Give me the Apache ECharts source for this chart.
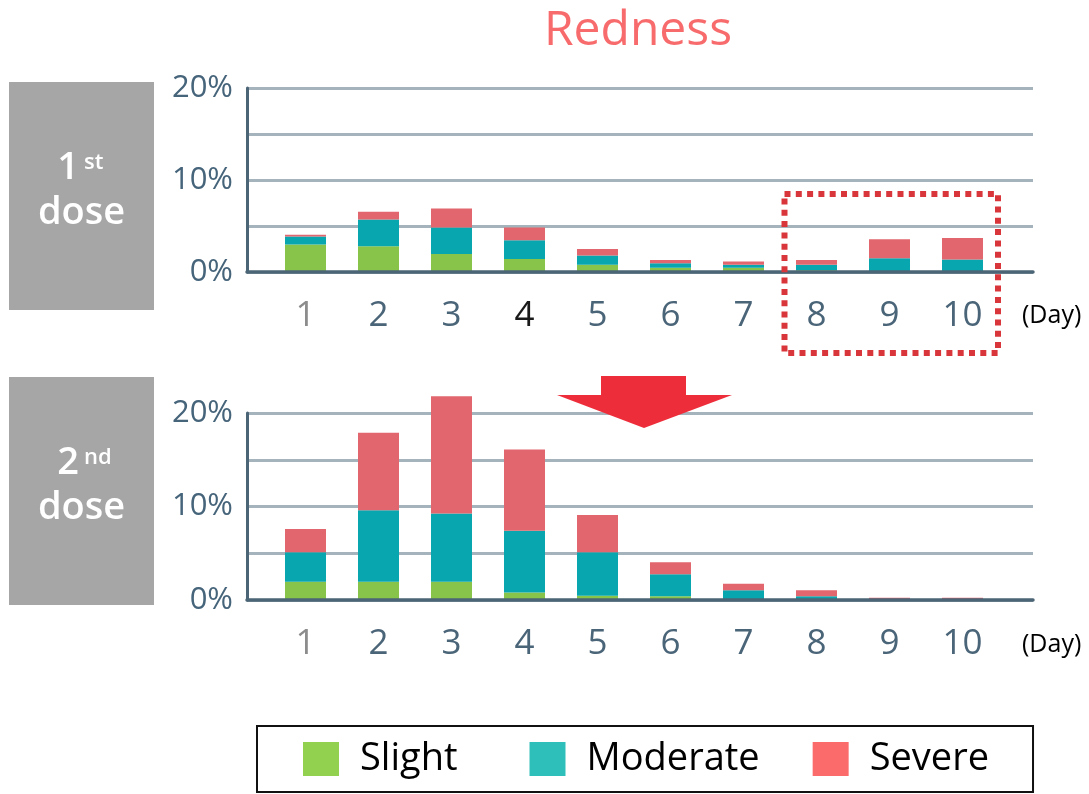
<!DOCTYPE html>
<html>
<head>
<meta charset="utf-8">
<script src="https://cdn.jsdelivr.net/npm/echarts@6.0.0/dist/echarts.min.js"></script>
<style>
  html, body { margin: 0; padding: 0; background: #fff; }
  #chart { width: 1089px; height: 794px; }
</style>
</head>
<body>
<div id="chart"></div>
<script>
// days after vaccination
const days = ['1', '2', '3', '4', '5', '6', '7', '8', '9', '10'];
const severityNames = ['Slight', 'Moderate', 'Severe'];

// % of people with redness, 1st dose
const dose1Slight   = [3.0, 2.8, 1.95, 1.4, 0.8, 0.45, 0.45, 0.2, 0, 0];
const dose1Moderate = [0.85, 2.9, 2.9, 2.05, 1.0, 0.5, 0.35, 0.6, 1.5, 1.35];
const dose1Severe   = [0.2, 0.85, 2.05, 1.4, 0.7, 0.35, 0.35, 0.5, 2.05, 2.35];

// % of people with redness, 2nd dose
const dose2Slight   = [1.95, 1.95, 1.95, 0.8, 0.45, 0.4, 0, 0, 0, 0];
const dose2Moderate = [3.15, 7.65, 7.3, 6.6, 4.65, 2.35, 1.05, 0.4, 0, 0];
const dose2Severe   = [2.5, 8.3, 12.55, 8.7, 4.0, 1.3, 0.7, 0.65, 0.25, 0.25];

const barColors = ['#88c44a', '#08a6ae', '#e2666d'];
const legendColors = ['#92d050', '#2ebfbb', '#fb6b6b'];

const axisDark = '#4b6576';
const gridGray = '#a5b4bc';
const labelSlate = '#4a6478';

let chart = echarts.init(document.getElementById('chart'));

// two panels, each = a frame grid (y axis 0-20% + gridlines) and a bar grid (days, a bit taller so bars can pass 20%)
const panels = [
  { base: 272, pxPerPct: 9.2, data: [dose1Slight, dose1Moderate, dose1Severe], dark4: true },
  { base: 600, pxPerPct: 9.35, data: [dose2Slight, dose2Moderate, dose2Severe], dark4: false }
];
const barMax = 24;

let grids = [], xAxes = [], yAxes = [], series = [];

panels.forEach((p, i) => {
  let frame = i * 2, bars = i * 2 + 1;
  let h20 = 20 * p.pxPerPct, hMax = barMax * p.pxPerPct;
  grids.push({ left: 247, width: 786, top: p.base - h20, height: h20 });
  grids.push({ left: 269, width: 730, top: p.base - hMax, height: hMax });

  xAxes.push({
    gridIndex: frame, type: 'value', min: 0, max: 1, z: 5,
    axisLine: { show: true, lineStyle: { color: axisDark, width: 3.5 } },
    axisTick: { show: false }, axisLabel: { show: false }, splitLine: { show: false }
  });
  xAxes.push({
    gridIndex: bars, type: 'category', data: days,
    axisLine: { show: false }, axisTick: { show: false },
    axisLabel: {
      margin: 27, fontSize: 35, fontFamily: 'Open Sans',
      color: (v, idx) => idx === 0 ? '#8c8c8c' : (idx === 3 && p.dark4 ? '#1a1a1a' : labelSlate)
    }
  });

  yAxes.push({
    gridIndex: frame, type: 'value', min: 0, max: 20, interval: 5,
    axisLine: { show: true, lineStyle: { color: axisDark, width: 3 } },
    axisTick: { show: false },
    axisLabel: {
      margin: 14, fontSize: 31, fontFamily: 'Open Sans', color: '#46647a',
      formatter: v => (v % 10 === 0 ? v + '%' : '')
    },
    splitLine: { show: true, lineStyle: { color: gridGray, width: 3 } }
  });
  yAxes.push({ gridIndex: bars, type: 'value', min: 0, max: barMax, show: false });

  p.data.forEach((vals, k) => {
    series.push({
      type: 'bar', name: severityNames[k], stack: 'dose' + i,
      xAxisIndex: bars, yAxisIndex: bars, barWidth: 41,
      itemStyle: { color: barColors[k] },
      data: vals
    });
  });
});

function boxLabel(y0, num, sup) {
  return [
    { type: 'rect', shape: { x: 9, y: y0, width: 145, height: 228 }, style: { fill: '#a6a6a6' } },
    { type: 'text', x: 79, y: y0 + 86, style: { text: num, fill: '#fff', font: '600 38px "Open Sans"', textAlign: 'right', textVerticalAlign: 'middle' } },
    { type: 'text', x: 84, y: y0 + 81, style: { text: sup, fill: '#fff', font: '600 22px "Open Sans"', textAlign: 'left', textVerticalAlign: 'middle' } },
    { type: 'text', x: 81.5, y: y0 + 131, style: { text: 'dose', fill: '#fff', font: '600 38px "Open Sans"', textAlign: 'center', textVerticalAlign: 'middle' } }
  ];
}

let graphics = []
  .concat(boxLabel(82, '1', 'st'))
  .concat(boxLabel(377, '2', 'nd'))
  .concat([
    { type: 'text', x: 638, y: 31, style: { text: 'Redness', fill: '#f86b6d', font: '48px "Open Sans"', textAlign: 'center', textVerticalAlign: 'middle' } },
    { type: 'text', x: 1022, y: 316, style: { text: '(Day)', fill: '#000', font: '25px "Open Sans"', textAlign: 'left', textVerticalAlign: 'middle' } },
    { type: 'text', x: 1022, y: 645, style: { text: '(Day)', fill: '#000', font: '25px "Open Sans"', textAlign: 'left', textVerticalAlign: 'middle' } },
    { type: 'rect', z: 10, shape: { x: 784.5, y: 194, width: 213.5, height: 159 },
      style: { fill: 'none', stroke: '#d9363b', lineWidth: 6, lineDash: [6, 5.3] } },
    { type: 'polygon', z: 10,
      shape: { points: [[601, 376], [686, 376], [686, 395], [732, 395], [644, 428], [557, 395], [601, 395]] },
      style: { fill: '#ee2d3a' } }
  ]);

const legendPad = [[0, 24, 0, 16], [0, 5, 0, 16], [0, 0, 0, 16]];

chart.setOption({
  animation: false,
  grid: grids,
  xAxis: xAxes,
  yAxis: yAxes,
  series: series,
  legend: {
    left: 257, top: 726, padding: [14, 44, 14, 46],
    borderColor: '#111', borderWidth: 2,
    itemWidth: 36, itemHeight: 34, itemGap: 48, icon: 'rect',
    textStyle: { fontSize: 38, lineHeight: 36, fontFamily: 'Open Sans', color: '#000' },
    data: severityNames.map((n, k) => ({
      name: n, itemStyle: { color: legendColors[k] },
      textStyle: { fontSize: 38, lineHeight: 36, fontFamily: 'Open Sans', color: '#000', padding: legendPad[k] }
    }))
  },
  graphic: graphics
});
</script>
</body>
</html>
